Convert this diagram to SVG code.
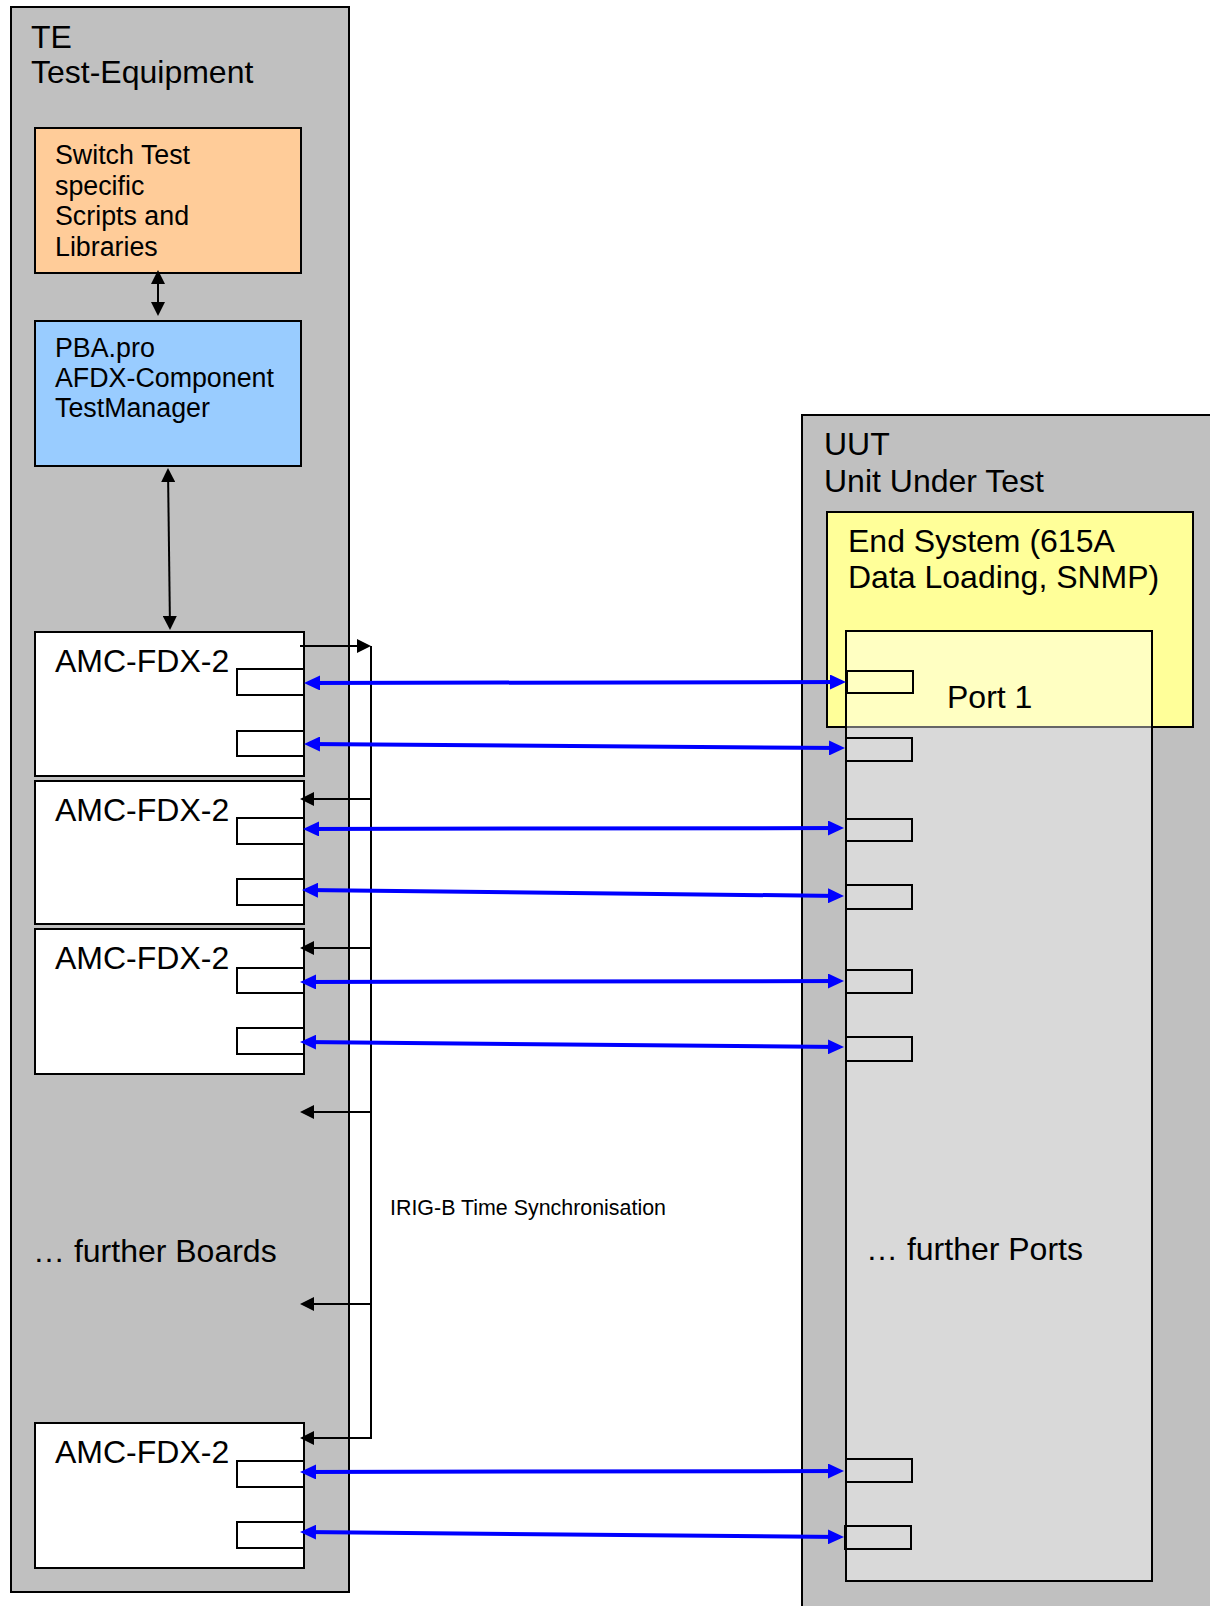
<svg xmlns="http://www.w3.org/2000/svg" width="1210" height="1606" viewBox="0 0 1210 1606">
<style>
  text { font-family: "Liberation Sans", Arial, sans-serif; fill: #000; }
  .big { font-size: 32px; }
  .mid { font-size: 26.8px; }
  .frame { fill: #C0C0C0; stroke: #000; stroke-width: 2; }
  .board { fill: #FFFFFF; stroke: #000; stroke-width: 2; }
  .tport { fill: #FFFFFF; stroke: #000; stroke-width: 2; }
  .uport { fill: none; stroke: #000; stroke-width: 2; }
  .blue { stroke: #0000FF; stroke-width: 4; fill: none; marker-start: url(#ba); marker-end: url(#ba); }
  .blk { stroke: #000; stroke-width: 2; fill: none; }
</style>
<defs>
  <marker id="ba" markerUnits="userSpaceOnUse" markerWidth="16" markerHeight="15" refX="12" refY="7.5" orient="auto-start-reverse" viewBox="0 0 16 15">
    <path d="M0,0 L16,7.5 L0,15 z" fill="#0000FF"/>
  </marker>
  <marker id="ka" markerUnits="userSpaceOnUse" markerWidth="14" markerHeight="14" refX="12" refY="7" orient="auto-start-reverse" viewBox="0 0 14 14">
    <path d="M0,0 L14,7 L0,14 z" fill="#000"/>
  </marker>
</defs>

<g id="te">
  <rect class="frame" x="11" y="7" width="338" height="1585"/>
  <text class="big" x="31" y="48">TE</text>
  <text class="big" x="31" y="83">Test-Equipment</text>
</g>

<g id="scripts">
  <rect x="35" y="128" width="266" height="145" fill="#FFCC99" stroke="#000" stroke-width="2"/>
  <text class="mid" x="55" y="164">Switch Test</text>
  <text class="mid" x="55" y="194.5">specific</text>
  <text class="mid" x="55" y="225">Scripts and</text>
  <text class="mid" x="55" y="255.5">Libraries</text>
</g>

<g id="testmanager">
  <rect x="35" y="321" width="266" height="145" fill="#99CCFF" stroke="#000" stroke-width="2"/>
  <text class="mid" x="55" y="357">PBA.pro</text>
  <text class="mid" x="55" y="387">AFDX-Component</text>
  <text class="mid" x="55" y="417">TestManager</text>
</g>

<g id="board1">
  <rect class="board" x="35" y="632" width="269" height="144"/>
  <text class="big" x="55" y="672">AMC-FDX-2</text>
  <rect class="tport" x="237" y="669" width="67" height="26"/>
  <rect class="tport" x="237" y="731" width="67" height="25"/>
</g>
<g id="board2">
  <rect class="board" x="35" y="781" width="269" height="143"/>
  <text class="big" x="55" y="821">AMC-FDX-2</text>
  <rect class="tport" x="237" y="818" width="67" height="26"/>
  <rect class="tport" x="237" y="879" width="67" height="26"/>
</g>
<g id="board3">
  <rect class="board" x="35" y="929" width="269" height="145"/>
  <text class="big" x="55" y="969">AMC-FDX-2</text>
  <rect class="tport" x="237" y="968" width="67" height="25"/>
  <rect class="tport" x="237" y="1028" width="67" height="26"/>
</g>
<g id="further-boards">
  <text class="big" x="33" y="1262">… further Boards</text>
</g>
<g id="board-last">
  <rect class="board" x="35" y="1423" width="269" height="145"/>
  <text class="big" x="55" y="1463">AMC-FDX-2</text>
  <rect class="tport" x="237" y="1461" width="67" height="26"/>
  <rect class="tport" x="237" y="1522" width="67" height="26"/>
</g>

<g id="irig-label">
  <text x="390" y="1215" font-size="21.5" textLength="276" lengthAdjust="spacingAndGlyphs">IRIG-B Time Synchronisation</text>
</g>

<g id="uut">
  <rect class="frame" x="802" y="415" width="430" height="1220"/>
  <text class="big" x="824" y="455">UUT</text>
  <text class="big" x="824" y="492">Unit Under Test</text>
</g>

<g id="end-system">
  <rect x="827" y="512" width="366" height="215" fill="#FFFF99" stroke="#000" stroke-width="2"/>
  <text class="big" x="848" y="552">End System (615A</text>
  <text class="big" x="848" y="588">Data Loading, SNMP)</text>
</g>

<g id="ports">
  <rect x="846" y="631" width="306" height="950" fill="#FFFFFF" fill-opacity="0.4" stroke="#000" stroke-width="2"/>
  <text class="big" x="947" y="708">Port 1</text>
  <rect class="uport" x="847" y="671" width="66" height="22"/>
  <rect class="uport" x="846" y="738" width="66" height="23"/>
  <rect class="uport" x="846" y="819" width="66" height="22"/>
  <rect class="uport" x="846" y="885" width="66" height="24"/>
  <rect class="uport" x="846" y="970" width="66" height="23"/>
  <rect class="uport" x="846" y="1037" width="66" height="24"/>
  <text class="big" x="866" y="1260">… further Ports</text>
  <rect class="uport" x="846" y="1459" width="66" height="23"/>
  <rect class="uport" x="845" y="1526" width="66" height="23"/>
</g>

<g id="connectors">
  <line class="blk" x1="158" y1="272" x2="158" y2="314" marker-start="url(#ka)" marker-end="url(#ka)"/>
  <line class="blk" x1="168" y1="470" x2="170" y2="628" marker-start="url(#ka)" marker-end="url(#ka)"/>

  <polyline class="blk" points="371,646 371,1438"/>
  <line class="blk" x1="300" y1="646" x2="369" y2="646" marker-end="url(#ka)"/>
  <line class="blk" x1="371" y1="799" x2="302" y2="799" marker-end="url(#ka)"/>
  <line class="blk" x1="371" y1="948" x2="302" y2="948" marker-end="url(#ka)"/>
  <line class="blk" x1="371" y1="1112" x2="302" y2="1112" marker-end="url(#ka)"/>
  <line class="blk" x1="371" y1="1304" x2="302" y2="1304" marker-end="url(#ka)"/>
  <line class="blk" x1="372" y1="1438" x2="302" y2="1438" marker-end="url(#ka)"/>

  <line class="blue" x1="308" y1="683" x2="842" y2="682"/>
  <line class="blue" x1="308" y1="744" x2="841" y2="748"/>
  <line class="blue" x1="307" y1="829" x2="840" y2="828"/>
  <line class="blue" x1="306" y1="890" x2="840" y2="896"/>
  <line class="blue" x1="304" y1="982" x2="840" y2="981"/>
  <line class="blue" x1="304" y1="1042" x2="840" y2="1047"/>
  <line class="blue" x1="304" y1="1472" x2="840" y2="1471"/>
  <line class="blue" x1="304" y1="1532" x2="840" y2="1537"/>
</g>
</svg>
